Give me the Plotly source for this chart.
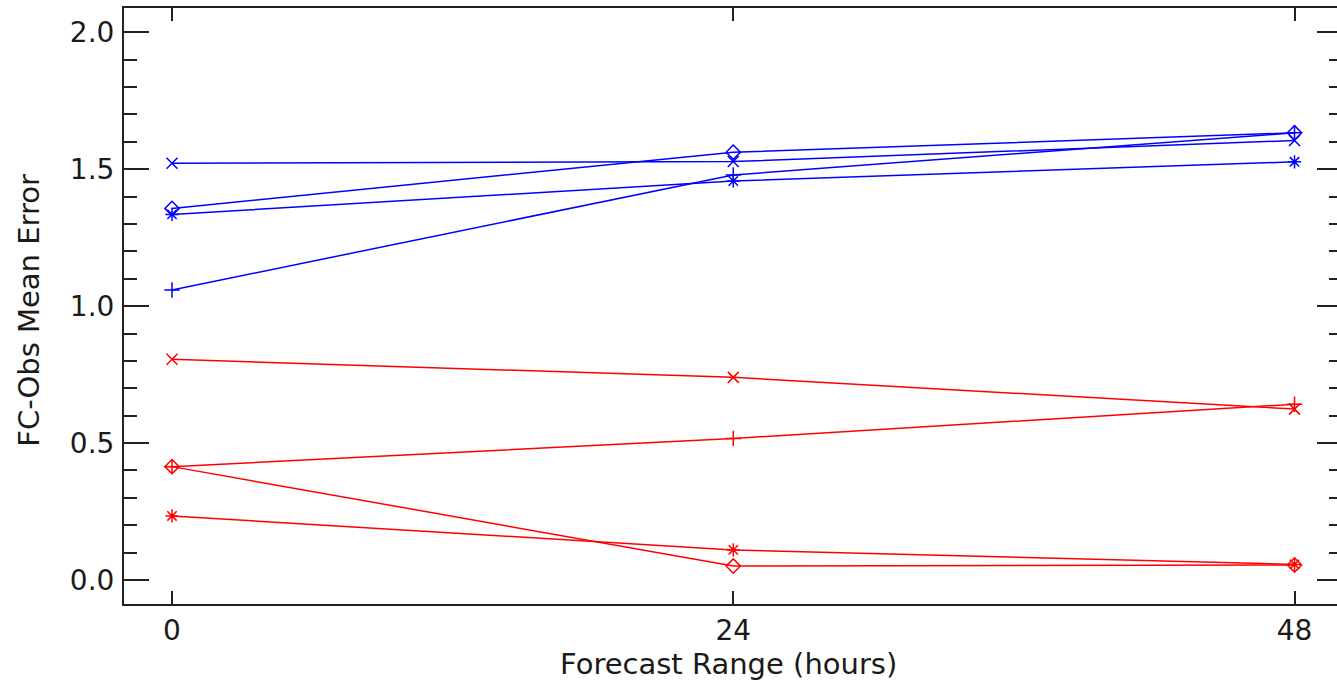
import plotly.graph_objects as go

# Forecast range (hours)
forecast_hours = [0, 24, 48]

# Blue series (FC-Obs mean error)
blue_plus = [1.059, 1.479, 1.633]
blue_asterisk = [1.335, 1.457, 1.527]
blue_diamond = [1.357, 1.562, 1.633]
blue_x = [1.522, 1.528, 1.605]

# Red series
red_plus = [0.414, 0.517, 0.642]
red_asterisk = [0.234, 0.110, 0.057]
red_diamond = [0.414, 0.051, 0.055]
red_x = [0.806, 0.740, 0.624]

x_tick_vals = [0, 24, 48]
x_tick_text = ["0", "24", "48"]
y_tick_vals = [0.0, 0.5, 1.0, 1.5, 2.0]
y_tick_text = ["0.0", "0.5", "1.0", "1.5", "2.0"]

series = [
    (blue_plus, "#0000ff", "cross-thin-open", "blue +"),
    (blue_asterisk, "#0000ff", "asterisk-open", "blue *"),
    (blue_diamond, "#0000ff", "diamond-open", "blue ◇"),
    (blue_x, "#0000ff", "x-thin-open", "blue x"),
    (red_plus, "#ff0000", "cross-thin-open", "red +"),
    (red_asterisk, "#ff0000", "asterisk-open", "red *"),
    (red_diamond, "#ff0000", "diamond-open", "red ◇"),
    (red_x, "#ff0000", "x-thin-open", "red x"),
]

fig = go.Figure()
for vals, color, sym, name in series:
    fig.add_trace(go.Scatter(
        x=forecast_hours, y=vals, mode="lines+markers", name=name,
        line=dict(color=color, width=1.5),
        marker=dict(symbol=sym, size=11, color=color, line=dict(color=color, width=1.5)),
        showlegend=False,
    ))

FONT = "DejaVu Sans"
TXT = "#1a1a1a"
yr = [-0.0876, 2.0887]

fig.update_layout(
    width=1342, height=686,
    margin=dict(l=124, r=0, t=8, b=82, autoexpand=False),
    paper_bgcolor="white", plot_bgcolor="white",
    font=dict(family=FONT, size=28, color=TXT),
    xaxis=dict(
        range=[-2.053, 50.03], tickvals=x_tick_vals, ticktext=x_tick_text,
        ticks="inside", ticklen=13, tickwidth=2, tickcolor="#222",
        showline=True, linewidth=2, linecolor="#222", mirror="ticks",
        showgrid=False, zeroline=False, automargin=False,
        tickfont=dict(family=FONT, size=28, color=TXT),
        ticklabelstandoff=0,
    ),
    yaxis=dict(
        range=yr, tickvals=y_tick_vals, ticktext=y_tick_text,
        ticks="inside", ticklen=25, tickwidth=2, tickcolor="#222",
        minor=dict(dtick=0.1, tick0=0, ticks="inside", ticklen=13, tickwidth=2, tickcolor="#222", showgrid=False),
        showline=True, linewidth=2, linecolor="#222", mirror="ticks",
        showgrid=False, zeroline=False, automargin=False,
        tickfont=dict(family=FONT, size=28, color=TXT),
        ticklabelstandoff=2,
    ),
    annotations=[
        dict(text="Forecast Range (hours)", xref="paper", yref="paper", x=0.4967, y=-0.1007,
             xanchor="center", yanchor="middle", showarrow=False,
             font=dict(family=FONT, size=29, color=TXT)),
        dict(text="FC-Obs Mean Error", xref="paper", yref="paper", x=-0.0775, y=0.493,
             xanchor="center", yanchor="middle", showarrow=False, textangle=-90,
             font=dict(family=FONT, size=29, color=TXT)),
    ],
)

fig.write_html(
    "out.html",
    config={"displayModeBar": False},
    post_script=(
        "document.body.style.margin='0';"
        "document.body.style.overflow='hidden';"
        "document.documentElement.style.overflow='hidden';"
    ),
)
